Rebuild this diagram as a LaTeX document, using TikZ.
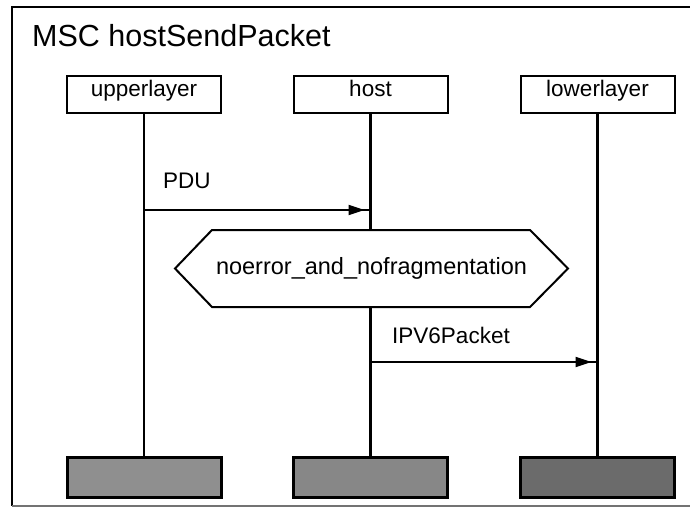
\documentclass[tikz,border=0pt]{standalone}
\usepackage{fontspec}
\setmainfont{Liberation Sans}
\usetikzlibrary{arrows.meta,decorations.markings}

\begin{document}
\begin{tikzpicture}[x=1pt,y=-1pt,
  headbox/.style={draw, line width=2pt, fill=white, minimum width=154pt,
    minimum height=37pt, inner sep=0pt, text height=13pt, text depth=8pt,
    font=\fontsize{22.5}{27}\selectfont},
  endbox/.style={draw, line width=3pt, minimum width=154pt,
    minimum height=40pt, inner sep=0pt},
  lifeline/.style={line width=2.6pt},
  msgline/.style={line width=2pt, postaction={decorate},
    decoration={markings, mark=at position -6pt with
      {\arrow{Triangle[length=16pt,width=10pt]}}}},
  msglabel/.style={anchor=base west, inner sep=0pt,
    font=\fontsize{22.5}{27}\selectfont},
  condshape/.style={line width=2pt, fill=white}
]
\useasboundingbox (0,0) rectangle (690,508);

% enclosing frame, open on the right
\draw[line width=2pt] (690,7) -- (12,7) -- (12,506);
\draw[line width=1.6pt, black!55] (12,506) -- (690,506);

% diagram title
\node[anchor=base west, inner sep=0pt, font=\fontsize{30.5}{36}\selectfont]
  (title) at (32,47) {MSC hostSendPacket};

% instance heads
\node[headbox] (upper) at (144,94.5) {upperlayer};
\node[headbox] (host)  at (370.5,94.5) {host};
\node[headbox] (lower) at (597.5,94.5) {lowerlayer};

% instance ends
\node[endbox, fill=black!44] (upperend) at (144,477) {};
\node[endbox, fill=black!47] (hostend)  at (370.5,477) {};
\node[endbox, fill=black!58] (lowerend) at (597.5,477) {};

% lifelines
\draw[lifeline] (upper.south) -- (upperend.north);
\draw[lifeline] (host.south)  -- (hostend.north);
\draw[lifeline] (lower.south) -- (lowerend.north);

% message PDU: upperlayer -> host
\coordinate (pdufrom) at (144,210);
\coordinate (pduto)   at (370.5,210);
\draw[msgline] (pdufrom) -- (pduto);
\node[msglabel] (pdulabel) at (163,188) {PDU};

% condition on host
\draw[condshape] (175,268.5) -- (212,230) -- (530,230) -- (568,268.5)
  -- (530,307) -- (212,307) -- cycle;
\node[inner sep=0pt, font=\fontsize{23.5}{28}\selectfont] (cond)
  at (371.5,268.5) {noerror\_and\_nofragmentation};

% message IPV6Packet: host -> lowerlayer
\coordinate (ipfrom) at (370.5,362);
\coordinate (ipto)   at (597.5,362);
\draw[msgline] (ipfrom) -- (ipto);
\node[msglabel] (iplabel) at (392,343) {IPV6Packet};

\end{tikzpicture}
\end{document}
